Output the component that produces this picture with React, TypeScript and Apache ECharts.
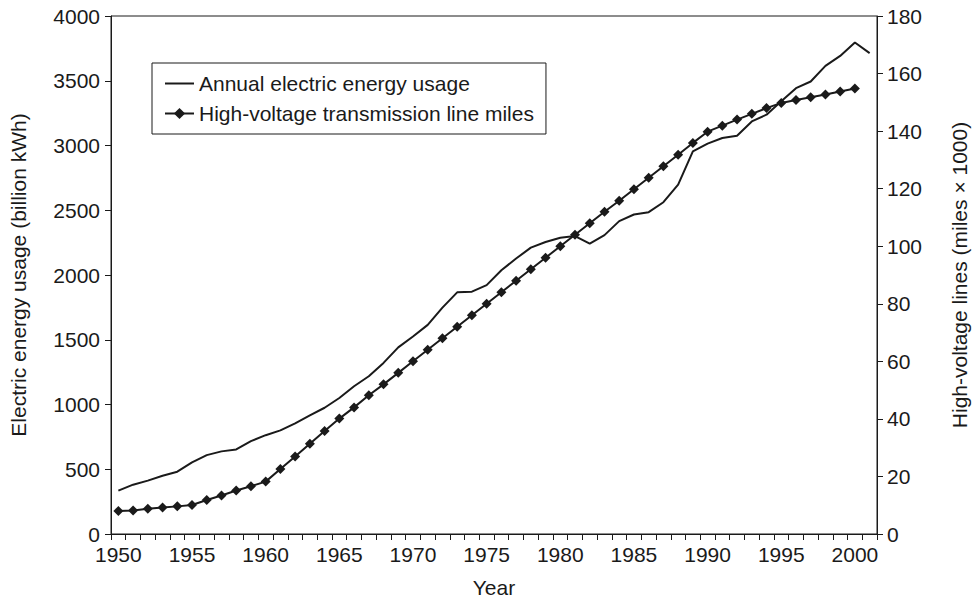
import React, { useEffect, useRef } from "react";
import * as echarts from "echarts";

const years: string[] = [];
for (let y = 1950; y <= 2001; y++) years.push(String(y));

const energyUsage = [
  335, 381, 412, 450, 481, 553, 609, 638, 653, 717,
  763, 800, 855, 916, 975, 1050, 1141, 1218, 1321, 1441,
  1525, 1615, 1748, 1866, 1871, 1922, 2037, 2127, 2211, 2255,
  2288, 2301, 2242, 2308, 2416, 2467, 2485, 2562, 2698, 2955,
  3014, 3058, 3076, 3186, 3238, 3341, 3443, 3494, 3615, 3692,
  3795, 3713,
];

const lineMiles = [
  8.0, 8.2, 8.8, 9.2, 9.6, 10.1, 11.8, 13.4, 15.1, 16.6,
  18.2, 22.6, 26.9, 31.4, 35.8, 40.1, 44.0, 48.2, 52.0, 56.0,
  60.0, 64.0, 68.0, 72.0, 76.0, 80.0, 84.0, 88.0, 92.0, 96.0,
  100.0, 104.0, 108.0, 112.0, 115.8, 119.8, 123.8, 127.8, 131.8, 135.9,
  139.8, 141.9, 144.0, 146.0, 148.0, 149.8, 150.8, 151.8, 152.7, 153.8,
  154.8, null,
];

const FONT = "'Liberation Sans', Arial, Helvetica, sans-serif";
const INK = "#1a1a1a";

export default function App() {
  const ref = useRef<HTMLDivElement>(null);
  useEffect(() => {
    document.body.style.margin = "0";
    if (!ref.current) return;
    const chart = echarts.init(ref.current, null, { renderer: "svg" });
    const txt = { color: INK, fontFamily: FONT, fontSize: 21 };
    const plain = (v: number | string) => String(v);
    chart.setOption({
      animation: false,
      backgroundColor: "#fff",
      textStyle: { fontFamily: FONT, color: INK },
      grid: {
        left: 103,
        right: 88,
        top: 16,
        bottom: 66,
        show: true,
        borderColor: INK,
        borderWidth: 1,
        backgroundColor: "transparent",
      },
      legend: {
        orient: "vertical",
        left: 152,
        top: 63,
        padding: [10, 12, 10, 12],
        itemGap: 9,
        itemWidth: 29,
        itemHeight: 14,
        borderColor: INK,
        borderWidth: 1,
        backgroundColor: "#fff",
        textStyle: { ...txt },
        data: [
          { name: "Annual electric energy usage", icon: "path://M0,0 L29,0 L29,2 L0,2 Z" },
          { name: "High-voltage transmission line miles" },
        ],
      },
      xAxis: {
        type: "category",
        data: years,
        boundaryGap: true,
        name: "Year",
        nameLocation: "middle",
        nameGap: 43,
        nameTextStyle: { ...txt },
        axisLine: { show: true, lineStyle: { color: INK, width: 1 } },
        axisTick: { show: true, interval: 0, alignWithLabel: false, length: 6, lineStyle: { color: INK } },
        axisLabel: { ...txt, interval: 4, margin: 10 },
        splitLine: { show: false },
      },
      yAxis: [
        {
          type: "value",
          min: 0,
          max: 4000,
          interval: 500,
          position: "left",
          name: "Electric energy usage (billion kWh)",
          nameLocation: "middle",
          nameRotate: 90,
          nameGap: 82,
          nameTextStyle: { ...txt },
          axisLine: { show: true, lineStyle: { color: INK, width: 1 } },
          axisTick: { show: true, length: 6, lineStyle: { color: INK } },
          axisLabel: { ...txt, margin: 11, formatter: plain },
          splitLine: { show: false },
        },
        {
          type: "value",
          min: 0,
          max: 180,
          interval: 20,
          position: "right",
          name: "High-voltage lines (miles \u00d7 1000)",
          nameLocation: "middle",
          nameRotate: 90,
          nameGap: 72,
          nameTextStyle: { ...txt },
          axisLine: { show: true, lineStyle: { color: INK, width: 1 } },
          axisTick: { show: true, length: 6, lineStyle: { color: INK } },
          axisLabel: { ...txt, margin: 10, formatter: plain },
          splitLine: { show: false },
        },
      ],
      series: [
        {
          name: "Annual electric energy usage",
          type: "line",
          yAxisIndex: 0,
          data: energyUsage,
          symbol: "none",
          showSymbol: false,
          lineStyle: { color: INK, width: 2 },
          itemStyle: { color: INK },
        },
        {
          name: "High-voltage transmission line miles",
          type: "line",
          yAxisIndex: 1,
          data: lineMiles,
          symbol: "diamond",
          symbolSize: 10,
          showSymbol: true,
          showAllSymbol: true,
          lineStyle: { color: INK, width: 2 },
          itemStyle: { color: INK },
        },
      ],
    });
    return () => chart.dispose();
  }, []);
  return <div ref={ref} style={{ width: 978, height: 603 }} />;
}
